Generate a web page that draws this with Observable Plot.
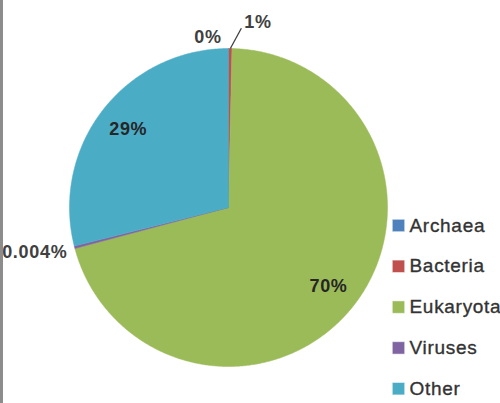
<!DOCTYPE html>
<html><head><meta charset="utf-8">
<script src="https://cdn.jsdelivr.net/npm/d3@7"></script>
<script src="https://cdn.jsdelivr.net/npm/@observablehq/plot@0.6"></script>
<style>
body{margin:0;background:#fff;}
#wrap{position:relative;width:500px;height:403px;overflow:hidden;}
#bar{position:absolute;left:0;top:0;width:3px;height:403px;background:#8c8c8c;z-index:2;}
</style>
</head><body><div id="wrap"><div id="bar"></div></div>
<script>
const categories = ["Archaea", "Bacteria", "Eukaryota", "Viruses", "Other"];
const values = [0.02, 0.33, 70.5, 0.25, 28.9];
const labels = ["0%", "1%", "70%", "0.004%", "29%"];
const colors = ["#4F81BD", "#C0504D", "#9BBB59", "#8064A2", "#4BACC6"];

const W = 500, H = 403, CX = 228, CY = 207, R = 159;
const pie = d3.pie().sort(null).value(d => d)(values);
const slices = pie.map((p, i) => ({cat: categories[i], a0: p.startAngle, a1: p.endAngle,
  mid: (p.startAngle + p.endAngle) / 2, value: values[i], label: labels[i], i}));

const pts = [];
for (const s of slices) {
  pts.push({cat: s.cat, x: 0, y: 0});
  const n = Math.max(2, Math.ceil((s.a1 - s.a0) / (Math.PI / 360)));
  for (let k = 0; k <= n; k++) {
    const a = s.a0 + (s.a1 - s.a0) * k / n;
    pts.push({cat: s.cat, x: Math.sin(a), y: Math.cos(a)});
  }
  pts.push({cat: s.cat, x: 0, y: 0});
}

function place(s) {
  if (s.value >= 5) return {r: 0.8, a: s.mid, anchor: "middle", dx: 0, dy: 0};
  if (s.cat === "Archaea") return {r: 1.08, a: s.mid, anchor: "end", dx: -7, dy: 1};
  if (s.cat === "Bacteria") return {r: 1.13, a: s.mid + 0.06, anchor: "start", dx: 3, dy: -6};
  return {r: 1.04, a: s.mid, anchor: "end", dx: -1, dy: 3};
}
const labelData = slices.map(s => {
  const p = place(s);
  return {...s, x: p.r * Math.sin(p.a), y: p.r * Math.cos(p.a), anchor: p.anchor, dx: p.dx, dy: p.dy};
});
const leader = labelData.filter(d => d.cat === "Bacteria").map(d => ({
  x1: Math.sin(d.mid), y1: Math.cos(d.mid), x2: d.x, y2: d.y}));

const legendData = categories.map((c, i) => ({cat: c, x: (398 - CX) / R, y: (CY - (225 + i * 40.8)) / R}));

const font = "'Liberation Sans', Arial, sans-serif";

const chart = Plot.plot({
  width: W, height: H, margin: 0,
  x: {domain: [-CX / R, (W - CX) / R], axis: null},
  y: {domain: [-(H - CY) / R, CY / R], axis: null},
  color: {domain: categories, range: colors},
  style: {background: "transparent", letterSpacing: "0.7px", fontFamily: font},
  marks: [
    Plot.line(pts, {x: "x", y: "y", z: "cat", fill: "cat", stroke: "cat", strokeWidth: 0.5, curve: "linear"}),
    Plot.link(leader, {x1: "x1", y1: "y1", x2: "x2", y2: "y2", stroke: "#404040", strokeWidth: 1.3}),
    ...labelData.map(d => Plot.text([d], {
      x: "x", y: "y", text: "label", textAnchor: d.anchor, dx: d.dx, dy: d.dy,
      fontSize: 18, fontWeight: "bold", fill: d.value >= 5 ? "#262626" : "#404040", fontFamily: font
    })),
    Plot.dot(legendData, {x: "x", y: "y", symbol: "square", r: 7, fill: "cat", stroke: "white", strokeWidth: 0.5}),
    Plot.text(legendData, {x: "x", y: "y", text: "cat", textAnchor: "start", dx: 11,
      fontSize: 19, fill: "#333", stroke: "#333", strokeWidth: 0.35, fontFamily: font})
  ]
});
document.getElementById("wrap").appendChild(chart);
</script>
</body></html>
